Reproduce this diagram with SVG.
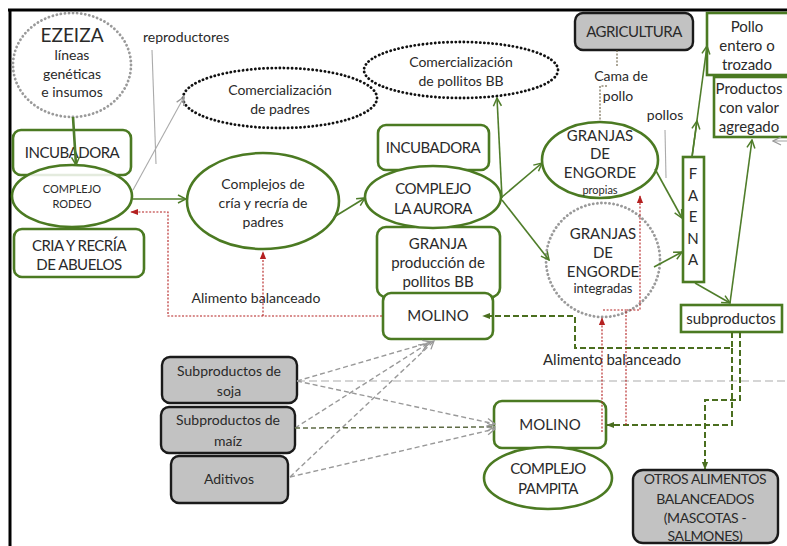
<svg xmlns="http://www.w3.org/2000/svg" width="787" height="546" viewBox="0 0 787 546">
<style>
text{font-family:Lato,"Liberation Sans",Arial,sans-serif;fill:#2a2a2a;text-anchor:middle}
.t15{font-size:15px}
.t14{font-size:14px}
.t13{font-size:13px}
.t11{font-size:11px}
.t20{font-size:19px}
.cn{letter-spacing:-0.5px}
.gn{fill:#fff;stroke:#4b7a22;stroke-width:2.6}
.gy{fill:#c2c2c2;stroke:#1a1a1a;stroke-width:2.4}
.dotb{fill:#fff;stroke:#111;stroke-width:2.8;stroke-dasharray:0.1 4;stroke-linecap:round}
.dotg{fill:#fff;stroke:#9a9a9a;stroke-width:2.8;stroke-dasharray:0.1 4;stroke-linecap:round}
.ga{fill:none;stroke:#4f7d2a;stroke-width:1.6;marker-end:url(#ga)}
.gyl{fill:none;stroke:#aaa;stroke-width:1.1}
.gya{fill:none;stroke:#aaa;stroke-width:1.1;marker-end:url(#gra)}
.gd{fill:none;stroke:#999;stroke-width:1.4;stroke-dasharray:5 3;marker-end:url(#gra)}
.gdd{fill:none;stroke:#5e6b45;stroke-width:1.5;stroke-dasharray:5 3;marker-end:url(#gra)}
.dg{fill:none;stroke:#4a6e1f;stroke-width:2;stroke-dasharray:6 3;marker-end:url(#dga)}
.rd{fill:none;stroke:#b42020;stroke-width:1.1;stroke-dasharray:2 1.6;marker-end:url(#ra)}
.rdn{fill:none;stroke:#b42020;stroke-width:1.1;stroke-dasharray:2 1.6}
.cama{fill:none;stroke:#5a4f30;stroke-width:1;stroke-dasharray:2 1.5}
</style>
<defs>
<marker id="ga" viewBox="0 0 10 10" refX="9" refY="5" markerWidth="10" markerHeight="10" orient="auto" markerUnits="userSpaceOnUse"><path d="M1,1 L9,5 L1,9" fill="none" stroke="#4f7d2a" stroke-width="1.5"/></marker>
<marker id="gra" viewBox="0 0 10 10" refX="9" refY="5" markerWidth="10" markerHeight="10" orient="auto" markerUnits="userSpaceOnUse"><path d="M1,1 L9,5 L1,9" fill="none" stroke="#999" stroke-width="1.3"/></marker>
<marker id="dga" viewBox="0 0 10 10" refX="9" refY="5" markerWidth="8" markerHeight="8" orient="auto" markerUnits="userSpaceOnUse"><path d="M0,1 L10,5 L0,9z" fill="#4a6e1f"/></marker>
<marker id="ra" viewBox="0 0 10 10" refX="9" refY="5" markerWidth="8" markerHeight="8" orient="auto" markerUnits="userSpaceOnUse"><path d="M0,1 L10,5 L0,9z" fill="#b42020"/></marker>
</defs>

<rect x="0" y="0" width="787" height="546" fill="#fff"/>
<path d="M8,10 H787 M10,9 V546" stroke="#000" stroke-width="3" fill="none"/>

<g id="ezeiza"><ellipse class="dotg" cx="72" cy="65" rx="59" ry="52"/>
<text class="t20" x="72" y="42">EZEIZA</text>
<text class="t14" x="72" y="60">líneas</text>
<text class="t14" x="72" y="79">genéticas</text>
<text class="t14" x="72" y="97">e insumos</text></g>

<g id="incubadora1"><rect class="gn" x="13" y="130" width="118" height="45" rx="8"/>
<text class="t15 cn" x="72" y="158">INCUBADORA</text></g>

<g id="rodeo"><ellipse class="gn" cx="72" cy="196" rx="60" ry="31" fill-opacity="0.85"/>
<text class="t11" x="72" y="193">COMPLEJO</text>
<text class="t11" x="72" y="208">RODEO</text></g>

<g id="abuelos"><rect class="gn" x="14" y="229" width="130" height="48" rx="8"/>
<text class="t15 cn" x="79" y="251">CRIA Y RECRÍA</text>
<text class="t15 cn" x="79" y="270">DE ABUELOS</text></g>

<g id="reproductores"><text class="t14" x="143" y="42" style="text-anchor:start">reproductores</text></g>

<g id="com-padres"><ellipse class="dotb" cx="280" cy="98" rx="97" ry="30"/>
<text class="t14" x="280" y="95">Comercialización</text>
<text class="t14" x="280" y="114">de padres</text></g>

<g id="complejos-padres"><ellipse class="gn" cx="263" cy="201" rx="76" ry="48"/>
<text class="t14" x="263" y="189">Complejos de</text>
<text class="t14" x="263" y="208">cría y recría de</text>
<text class="t14" x="263" y="227">padres</text></g>

<g id="com-pollitos"><ellipse class="dotb" cx="461" cy="70" rx="97" ry="28"/>
<text class="t14" x="461" y="67">Comercialización</text>
<text class="t14" x="461" y="86">de pollitos BB</text></g>

<g id="incubadora2"><rect class="gn" x="378" y="125" width="111" height="45" rx="8"/>
<text class="t15 cn" x="433" y="153">INCUBADORA</text></g>

<g id="granja-bb"><rect class="gn" x="377" y="227" width="123" height="70" rx="9"/>
<text class="t15" x="438" y="249">GRANJA</text>
<text class="t15" x="438" y="268">producción de</text>
<text class="t15" x="438" y="287">pollitos BB</text></g>

<g id="aurora"><ellipse class="gn" cx="433" cy="197" rx="68" ry="31"/>
<text class="t15 cn" x="433" y="194">COMPLEJO</text>
<text class="t15 cn" x="433" y="214">LA AURORA</text></g>

<g id="molino1"><rect class="gn" x="383" y="293" width="110" height="46" rx="8"/>
<text class="t15" x="438" y="321">MOLINO</text></g>

<g id="agricultura"><rect class="gy" x="575" y="13" width="118" height="37" rx="8"/>
<text class="t15 cn" x="634" y="37">AGRICULTURA</text></g>

<g id="cama"><text class="t14" x="621" y="81">Cama de</text>
<text class="t14" x="618" y="101">pollo</text></g>

<g id="granjas-propias"><ellipse class="gn" cx="600" cy="160" rx="58" ry="38"/>
<text class="t15" x="600" y="141">GRANJAS</text>
<text class="t15" x="600" y="159">DE</text>
<text class="t15" x="600" y="178">ENGORDE</text>
<text class="t11" x="600" y="194">propias</text></g>

<g id="granjas-integradas"><ellipse class="dotg" cx="603" cy="260" rx="57" ry="57"/>
<text class="t15" x="603" y="239">GRANJAS</text>
<text class="t15" x="603" y="258">DE</text>
<text class="t15" x="603" y="277">ENGORDE</text>
<text class="t13" x="603" y="293">integradas</text></g>

<g id="pollos"><text class="t14" x="665" y="120">pollos</text></g>

<g id="faena"><rect class="gn" x="683" y="157" width="21" height="125"/>
<text class="t15" x="693" y="179">F</text>
<text class="t15" x="693" y="201">A</text>
<text class="t15" x="693" y="222">E</text>
<text class="t15" x="693" y="244">N</text>
<text class="t15" x="693" y="265">A</text></g>

<g id="pollo-entero"><rect class="gn" x="707" y="13" width="90" height="62"/>
<text class="t15" x="747" y="32">Pollo</text>
<text class="t15" x="747" y="51">entero o</text>
<text class="t15" x="747" y="70">trozado</text></g>

<g id="productos-valor"><rect class="gn" x="714" y="77" width="80" height="60"/>
<text class="t15" x="749" y="94">Productos</text>
<text class="t15" x="749" y="113">con valor</text>
<text class="t15" x="749" y="132">agregado</text></g>

<g id="subproductos"><rect class="gn" x="681" y="305" width="101" height="27"/>
<text class="t15" x="731" y="324">subproductos</text></g>

<g id="soja"><rect class="gy" x="162" y="357" width="135" height="46" rx="8"/>
<text class="t14" x="229" y="376">Subproductos de</text>
<text class="t14" x="229" y="396">soja</text></g>

<g id="maiz"><rect class="gy" x="161" y="407" width="134" height="46" rx="8"/>
<text class="t14" x="228" y="425">Subproductos de</text>
<text class="t14" x="228" y="446">maíz</text></g>

<g id="aditivos"><rect class="gy" x="171" y="456" width="117" height="47" rx="8"/>
<text class="t14" x="229" y="484">Aditivos</text></g>

<g id="molino2"><rect class="gn" x="494" y="401" width="112" height="47" rx="8"/>
<text class="t15" x="550" y="430">MOLINO</text></g>

<g id="pampita"><ellipse class="gn" cx="548" cy="478" rx="64" ry="31"/>
<text class="t15 cn" x="548" y="474">COMPLEJO</text>
<text class="t15 cn" x="548" y="494">PAMPITA</text></g>

<g id="otros"><rect class="gy" x="633" y="470" width="145" height="73" rx="10"/>
<text class="t14" x="705" y="484" letter-spacing="-0.4">OTROS ALIMENTOS</text>
<text class="t14" x="705" y="504" letter-spacing="-0.4">BALANCEADOS</text>
<text class="t14" x="705" y="523" letter-spacing="-0.4">(MASCOTAS -</text>
<text class="t14" x="705" y="541" letter-spacing="-0.4">SALMONES)</text></g>

<g id="labels"><text class="t14" x="256" y="303">Alimento balanceado</text>
<text class="t15" x="612" y="365">Alimento balanceado</text></g>

<g id="connectors">
<path d="M73,117 L76,165" fill="none" stroke="#4f7d2a" stroke-width="2.6" marker-end="url(#ga)"/>
<path class="gyl" d="M152,50 L156,164"/>
<path class="gya" d="M133,190 L184,97"/>
<path class="ga" d="M133,199 H186"/>
<path class="ga" d="M334,217 L365,198"/>
<path class="ga" d="M502,198 L497,98"/>
<path class="ga" d="M502,197 L542,163"/>
<path class="ga" d="M502,200 L549,260"/>
<path class="cama" d="M617,50 V66 M607,86 H600 V122"/>
<path class="gyl" d="M665,130 L666,178"/>
<path class="ga" d="M655,169 L682,218"/>
<path class="ga" d="M654,267 L682,252"/>
<path class="ga" d="M692,157 L697,121"/>
<path class="ga" d="M692,157 L707,46"/>
<path class="ga" d="M695,283 L730,303"/>
<path class="ga" d="M730,303 L752,140"/>
<path class="gya" d="M787,141 H773"/>
<path d="M297,381 H787" fill="none" stroke="#c8c8c8" stroke-width="1.5" stroke-dasharray="8 4"/>
<path class="gd" d="M297,381 L431,342"/>
<path class="gd" d="M295,428 L427,344"/>
<path class="gd" d="M290,477 L434,341"/>
<path class="gd" d="M297,381 L495,424"/>
<path class="gdd" d="M295,428 L495,427"/>
<path class="gd" d="M290,477 L495,429"/>
<path class="dg" d="M732,332 V348 H575 V316 H483"/>
<path class="dg" d="M732,348 V425 H607"/>
<path class="dg" d="M740,332 V400 H705 V469"/>
<path class="rd" d="M382,316 H168 V212 H131"/>
<path class="rd" d="M263,316 V252"/>
<path class="rd" d="M602,432 V318"/>
<path class="rd" d="M626,425 V310 H640 V196"/>
<path class="rdn" d="M603,310 H626"/>
</g>
</svg>
